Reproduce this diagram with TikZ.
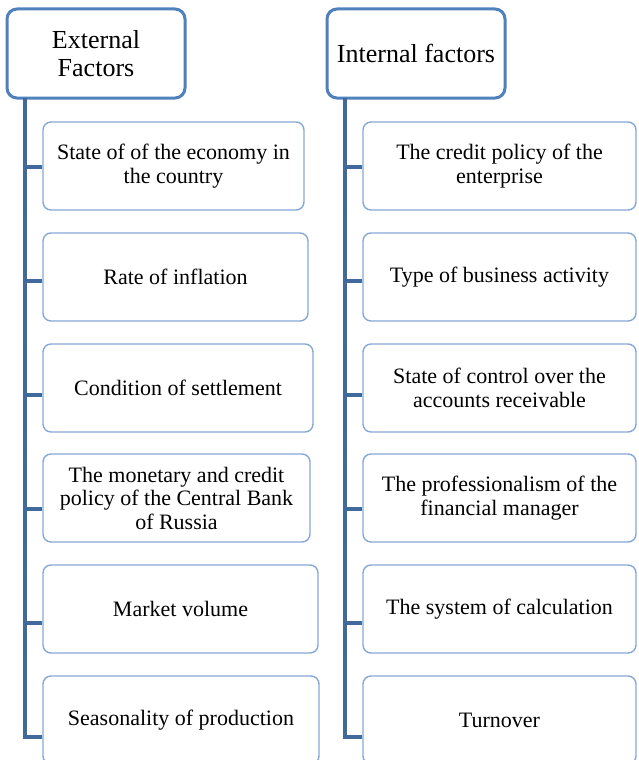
\documentclass[tikz,border=0pt]{standalone}
\usepackage{fontspec}
\setmainfont{Liberation Serif}
\usetikzlibrary{positioning}

\definecolor{headblue}{HTML}{4F81BD}
\definecolor{trunkblue}{HTML}{41699C}
\definecolor{boxblue}{HTML}{86A8D6}

\tikzset{
  factorhead/.style={draw=headblue, line width=3pt, rounded corners=10pt, fill=white,
    minimum width=178pt, minimum height=89pt, inner sep=0pt, align=center,
    font=\fontsize{26}{28}\selectfont},
  factorbox/.style={draw=boxblue, line width=1.4pt, rounded corners=8pt, fill=white,
    minimum height=88pt, inner sep=0pt, align=center,
    font=\fontsize{22}{23.5}\selectfont},
  trunk/.style={draw=trunkblue, line width=3.5pt}
}

\begin{document}
\begin{tikzpicture}[x=1pt, y=-1pt]
  \clip (0,0) rectangle (638,760);
  \fill[white] (0,0) rectangle (638,760);

  % headers
  \node[factorhead] (ext) at (96,53.5) {External\\Factors};
  \node[factorhead] (int) at (416,53.5) {Internal factors};

  % external factors
  \node[factorbox, minimum width=261pt] (e1) at (173.5,166) {State of of the economy in\\the country};
  \node[factorbox, minimum width=265pt] (e2) at (175.5,277) {Rate of inflation};
  \node[factorbox, minimum width=270pt] (e3) at (178,388) {Condition of settlement};
  \node[factorbox, minimum width=267pt] (e4) at (176.5,498) {The monetary and credit\\policy of the Central Bank\\of Russia};
  \node[factorbox, minimum width=275pt] (e5) at (180.5,609) {Market volume};
  \node[factorbox, minimum width=276pt] (e6) at (181,720) {Seasonality of production};

  % internal factors
  \node[factorbox, minimum width=273pt] (i1) at (499.5,166) {The credit policy of the\\enterprise};
  \node[factorbox, minimum width=273pt] (i2) at (499.5,277) {Type of business activity};
  \node[factorbox, minimum width=273pt] (i3) at (499.5,388) {State of control over the\\accounts receivable};
  \node[factorbox, minimum width=273pt] (i4) at (499.5,498) {The professionalism of the\\financial manager};
  \node[factorbox, minimum width=273pt] (i5) at (499.5,609) {The system of calculation};
  \node[factorbox, minimum width=273pt] (i6) at (499.5,720) {Turnover};

  % trunks
  \coordinate (et) at (25,98);
  \coordinate (it) at (345,98);
  \foreach \n/\y in {1/167,2/281,3/395,4/509,5/623,6/737} {
    \coordinate (ek\n) at (25,\y);
    \coordinate (ik\n) at (345,\y);
  }
  \draw[trunk] (et) -- (ek6) -- (ek6 -| e6.west);
  \draw[trunk] (it) -- (ik6) -- (ik6 -| i6.west);
  \foreach \n in {1,...,5} {
    \draw[trunk] (ek\n) -- (ek\n -| e\n.west);
    \draw[trunk] (ik\n) -- (ik\n -| i\n.west);
  }
\end{tikzpicture}
\end{document}
